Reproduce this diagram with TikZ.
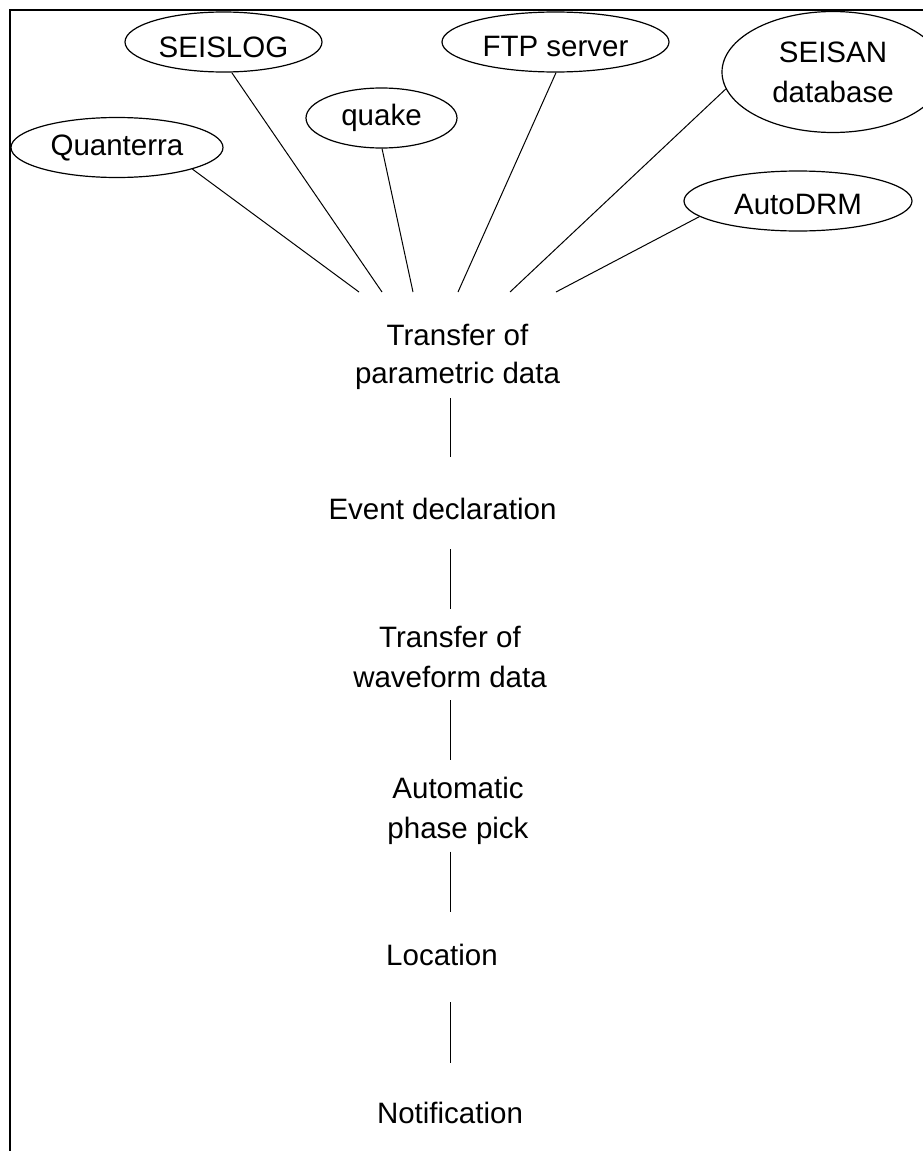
\documentclass[tikz,border=0pt]{standalone}
\usepackage{fontspec}
\setmainfont{Liberation Sans}
\usetikzlibrary{shapes.geometric}

\tikzstyle{source}=[ellipse, draw, line width=1.2pt, inner sep=0, minimum height=60pt, align=center, font=\fontsize{29.5}{40}\selectfont]
\tikzstyle{stage}=[inner sep=0, anchor=north, align=center, font=\fontsize{29.5}{40}\selectfont]
\tikzstyle{link}=[line width=1pt]

\begin{document}
\begin{tikzpicture}[x=1pt, y=-1pt]

\useasboundingbox (0, 0) rectangle (923, 1151);

% frame, cut off at the right and at the bottom
\draw [line width=2.4pt] (10, 1151) -- (10, 10) -- (923, 10);

% data sources
\node [source, minimum width=212pt] (quanterra) at (117, 147.5) {Quanterra};
\node [source, minimum width=197pt, text height=31pt] (seislog) at (223.5, 42) {SEISLOG};
\node [source, minimum width=151pt] (quake) at (381.5, 118) {quake};
\node [source, minimum width=227pt, text height=30pt] (ftp) at (555.5, 42) {FTP server};
\node [source, minimum width=222pt, minimum height=121pt] (seisan) at (833, 72) {SEISAN\\database};
\node [source, minimum width=228pt, text height=28pt] (autodrm) at (798, 201) {AutoDRM};

% processing stages
\node [stage] (tpd) at (457.5, 323.5) {Transfer of\\[-2pt]parametric data};
\node [stage] (ed) at (442.5, 497.9) {Event declaration};
\node [stage] (twd) at (450, 625.5) {Transfer of\\waveform data};
\node [stage] (app) at (458, 776.9) {Automatic\\phase pick};
\node [stage] (loc) at (442, 943.9) {Location};
\node [stage] (notif) at (450, 1101.5) {Notification};

% free ends above the first stage
\coordinate (in1) at (359, 292);
\coordinate (in2) at (382, 292);
\coordinate (in3) at (413, 292);
\coordinate (in4) at (458, 292);
\coordinate (in5) at (510, 292);
\coordinate (in6) at (556, 292);
\coordinate (axis) at (450, 0);

\draw [link] (quanterra.-16) to (in1);
\draw [link] (seislog.-75) to (in2);
\draw [link] (quake.-89) to (in3);
\draw [link] (ftp.-89) to (in4);
\draw [link] (seisan.-171) to (in5);
\draw [link] (autodrm.-171) to (in6);

\draw [link, shorten <=8.8pt, shorten >=40.9pt] (tpd.south -| axis) to (ed.north -| axis);
\draw [link, shorten <=29.5pt, shorten >=16.5pt] (ed.south -| axis) to (twd.north -| axis);
\draw [link, shorten <=12.5pt, shorten >=16.9pt] (twd.south -| axis) to (app.north -| axis);
\draw [link, shorten <=6.8pt, shorten >=31.9pt] (app.south -| axis) to (loc.north -| axis);
\draw [link, shorten <=36.5pt, shorten >=38.5pt] (loc.south -| axis) to (notif.north -| axis);

\end{tikzpicture}
\end{document}
